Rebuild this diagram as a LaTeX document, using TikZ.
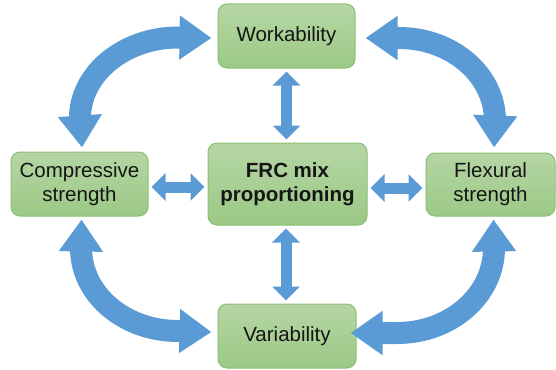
\documentclass[tikz,border=0pt]{standalone}
\usepackage{fontspec}
\setmainfont{Liberation Sans}
\usetikzlibrary{arrows.meta,calc}
\definecolor{arrblue}{HTML}{5B9BD5}
\definecolor{boxtop}{HTML}{B5D6A5}
\definecolor{boxbot}{HTML}{9CC985}
\definecolor{boxline}{HTML}{8CBF70}
\definecolor{txt}{HTML}{151515}
\tikzset{
  box/.style={draw=boxline, line width=1pt, rounded corners=9pt, top color=boxtop, bottom color=boxbot,
    align=center, text=txt, font=\fontsize{20.5}{24}\selectfont, inner sep=0pt},
  bigarr/.style={draw=arrblue, line width=22pt, line join=round,
    {Triangle[width=42pt,length=32pt]}-{Triangle[width=42pt,length=32pt]}},
  smallarr/.style={draw=arrblue, line width=11pt,
    {Triangle[width=27pt,length=14pt]}-{Triangle[width=27pt,length=14pt]},
    shorten <=3pt, shorten >=3pt}
}
\begin{document}
\begin{tikzpicture}[x=1pt,y=-1pt]
\useasboundingbox (0,0) rectangle (556,369);
\node[box, minimum width=137pt, minimum height=64pt] (wk) at (286.5,36) {Workability};
\node[box, minimum width=159pt, minimum height=82pt, font=\fontsize{20.5}{24.5}\selectfont\bfseries] (frc) at (287.5,184) {FRC mix\\proportioning};
\node[box, minimum width=137pt, minimum height=64pt] (cs) at (79.5,184) {Compressive\\strength};
\node[box, minimum width=129pt, minimum height=63pt] (fl) at (490.5,184.5) {Flexural\\strength};
\node[box, minimum width=138pt, minimum height=64pt] (va) at (287,336) {Variability};

% curved arrows
\draw[bigarr] ($(wk.west)+(-6,2)$) -- (178,37.5) .. controls (124,37.5) and (80,74) .. (80,118) -- ($(cs.north)+(2.5,-4)$);
\draw[bigarr] ($(wk.east)+(10,2)$) -- (399,38) .. controls (452,38) and (495,75) .. (495,121) -- ($(fl.north)+(3.5,-5)$);
\draw[bigarr] ($(cs.south)+(2,3)$) -- (81,248) .. controls (81,294) and (124,331) .. (178,331) -- ($(va.west)+(-6,-4)$);
\draw[bigarr] ($(fl.south)+(3,3)$) -- (494,248) .. controls (494,295) and (451,333) .. (397,333) -- ($(va.east)+(-6,-3)$);

% straight arrows
\draw[smallarr] (wk.south) -- (frc.north -| wk.south);
\draw[smallarr] ($(frc.south)+(-1.5,0)$) -- ($(va.north)+(-1,0)$);
\draw[smallarr] ($(cs.east)+(0,3)$) -- ($(frc.west)+(0,3)$);
\draw[smallarr] ($(frc.east)+(0,4)$) -- ($(fl.west)+(0,3.5)$);
\end{tikzpicture}
\end{document}
